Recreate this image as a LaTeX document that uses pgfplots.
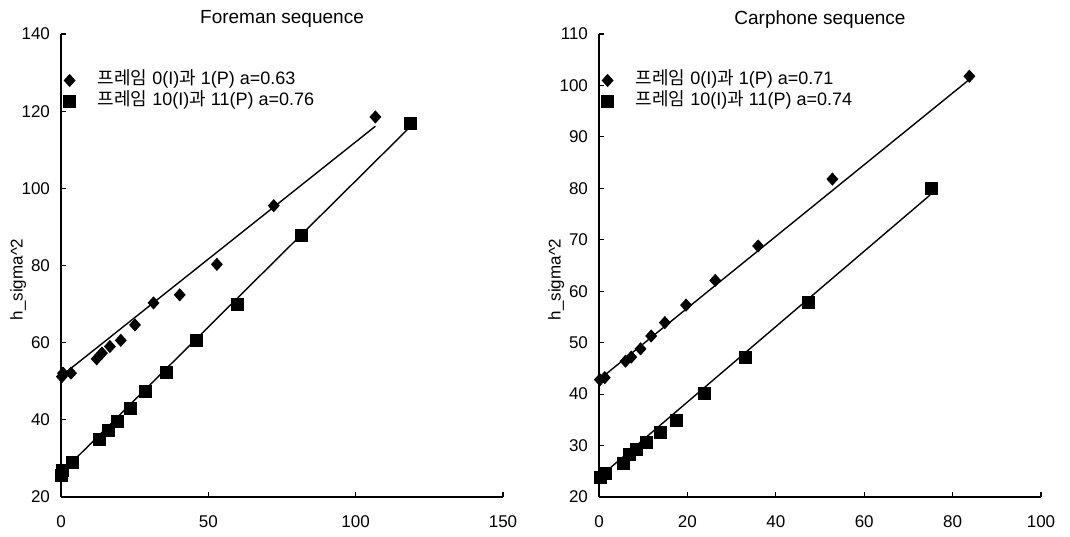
\documentclass[border=0pt]{standalone}
\usepackage{fontspec}
\setmainfont{Liberation Sans}
\newfontfamily\kr{Noto Sans CJK KR}
\usepackage{pgfplots}
\pgfplotsset{compat=1.18}
\usepackage{pgfplotstable}

% Foreman: frames 0/1 (diamonds), frames 10/11 (squares)
\pgfplotstableread{
x y
0.3 51.2
0.7 52.1
3.4 52.1
12.1 55.8
13.9 57.3
16.6 59.0
20.3 60.6
25.1 64.6
31.4 70.3
40.3 72.4
52.9 80.3
72.2 95.5
106.7 118.5
}\foremanA
\pgfplotstableread{
x y
0.3 25.6
0.5 26.8
4.0 29.0
13.2 34.9
16.1 37.2
19.2 39.7
23.5 42.9
28.6 47.3
35.6 52.2
46.0 60.6
60.0 70.0
81.6 87.7
118.7 116.8
}\foremanB
% Carphone
\pgfplotstableread{
x y
0.2 42.8
1.3 43.2
6.0 46.4
7.3 47.2
9.4 48.8
11.8 51.3
14.9 53.9
19.7 57.3
26.3 62.1
36.0 68.8
52.8 81.8
83.8 101.8
}\carphoneA
\pgfplotstableread{
x y
0.4 23.9
1.4 24.6
5.6 26.5
6.9 28.3
8.4 29.3
10.7 30.7
13.9 32.5
17.6 34.9
23.9 40.2
33.1 47.2
47.3 57.9
75.1 80.0
}\carphoneB

\pgfplotsset{
  seqaxis/.style={
    scale only axis,
    width=221pt, height=231.5pt,
    axis lines=left,
    axis line style={-, line width=0.6pt},
    tick align=inside,
    major tick length=2.5pt,
    tick style={black, line width=0.6pt},
    font=\fontsize{8.5}{10}\selectfont,
    /pgf/number format/assume math mode=true,
    title style={font=\fontsize{9.5}{11}\selectfont, at={(axis description cs:0.5,1)}, anchor=base, yshift=-1pt},
    ylabel={h\_sigma\^{}2},
    ylabel style={at={(axis description cs:-0.097,0.47)}, anchor=center},
    yticklabel style={xshift=-2pt},
    xticklabel style={yshift=-6pt},
    legend style={draw=none, fill=none, at={(axis description cs:0.005,0.877)}, anchor=west,
      font=\fontsize{9}{10}\selectfont, row sep=1pt, inner sep=0pt,
      nodes={text height=6.5pt, text depth=2pt, inner sep=0.5pt, inner xsep=3pt},
      /tikz/every odd column/.append style={column sep=8pt}},
    legend cell align=left,
    legend image code/.code={\draw[##1] plot coordinates {(0.13cm,0cm)};},
  },
  dia/.style={only marks, mark=diamond*, mark size=3pt, mark options={xscale=1.2}, black},
  sq/.style={only marks, mark=square*, mark size=3pt, black},
  fit/.style={black, line width=0.7pt, forget plot},
}

\begin{document}
\begin{tikzpicture}
\path[use as bounding box] (-30.5pt,-19.5pt) rectangle (504.5pt,248.5pt);

\begin{axis}[seqaxis,
  title={Foreman sequence},
  xmin=0, xmax=150, ymin=20, ymax=140,
  xtick={0,50,100,150}, ytick={20,40,...,140},
]
\addplot[dia] table {\foremanA};
\addlegendentry{{\kr 프레임} 0(I){\kr 과} 1(P) a=0.63}
\addplot[sq] table {\foremanB};
\addlegendentry{{\kr 프레임} 10(I){\kr 과} 11(P) a=0.76}
\addplot[fit] coordinates {(0,51.3) (106.7,116.1)};
\addplot[fit] coordinates {(0,26.2) (118.7,116.1)};
\end{axis}

\begin{axis}[seqaxis, at={(269pt,0pt)},
  title={Carphone sequence},
  xmin=0, xmax=100, ymin=20, ymax=110,
  xtick={0,20,...,100}, ytick={20,30,...,110},
]
\addplot[dia] table {\carphoneA};
\addlegendentry{{\kr 프레임} 0(I){\kr 과} 1(P) a=0.71}
\addplot[sq] table {\carphoneB};
\addlegendentry{{\kr 프레임} 10(I){\kr 과} 11(P) a=0.74}
\addplot[fit] coordinates {(0,42.8) (83.7,101.1)};
\addplot[fit] coordinates {(0,23.8) (74.9,78.7)};
\end{axis}
\end{tikzpicture}
\end{document}
